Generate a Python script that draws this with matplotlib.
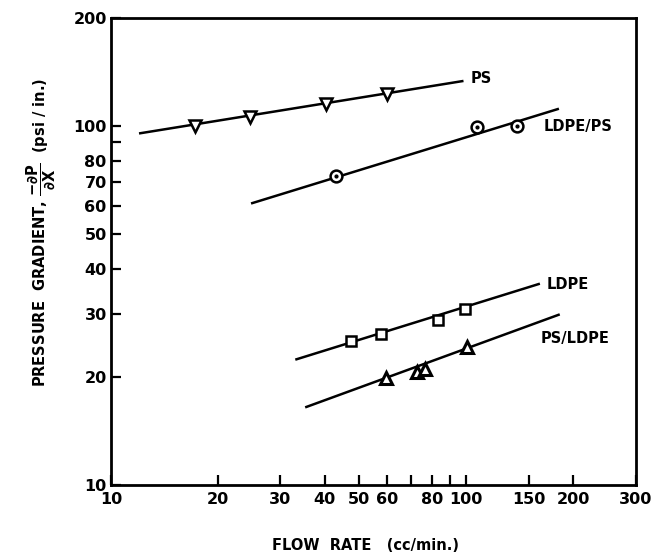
import matplotlib
matplotlib.use("Agg")
import matplotlib.pyplot as plt
from matplotlib.ticker import FixedLocator, FixedFormatter, NullLocator

# ---- data ----
ps_x = [17.2, 24.7, 40.4, 60.0]
ps_y = [100, 106, 115, 123]
ps_line_x = [12.1, 97.5]
ps_line_y = [95.5, 133.4]

ldpeps_x = [43.1, 107, 139]
ldpeps_y = [72.6, 99.4, 100]
ldpeps_line_x = [25.0, 181]
ldpeps_line_y = [61.0, 111.5]

ldpe_x = [47.5, 57.7, 83.4, 99.4]
ldpe_y = [25.2, 26.4, 28.8, 30.9]
ldpe_line_x = [33.3, 160]
ldpe_line_y = [22.4, 36.3]

psldpe_x = [59.6, 72.8, 76.7, 100.7]
psldpe_y = [19.9, 20.6, 21.0, 24.2]
psldpe_line_x = [35.5, 182]
psldpe_line_y = [16.5, 29.8]

series_labels = ["PS", "LDPE/PS", "LDPE", "PS/LDPE"]
label_pos = [(103, 136), (165, 99.6), (168, 36.3), (162, 25.6)]

x_ticks = [10, 20, 30, 40, 50, 60, 70, 80, 90, 100, 150, 200, 300]
x_tick_labels = ["10", "20", "30", "40", "50", "60", "", "80", "", "100", "150", "200", "300"]
y_ticks = [10, 20, 30, 40, 50, 60, 70, 80, 90, 100, 200]
y_tick_labels = ["10", "20", "30", "40", "50", "60", "70", "80", "", "100", "200"]

plt.rcParams['font.family'] = ['DejaVu Sans']
plt.rcParams['mathtext.fontset'] = 'dejavusans'

fig = plt.figure(figsize=(6.52, 5.54), dpi=100)
ax = fig.add_axes([0.170, 0.1245, 0.805, 0.843])
ax.set_xscale('log')
ax.set_yscale('log')
ax.set_xlim(10, 300)
ax.set_ylim(10, 200)

lw = 1.8
k = 'black'
ax.plot(ps_line_x, ps_line_y, color=k, lw=lw)
ax.plot(ps_x, ps_y, linestyle='none', marker='v', ms=8.5, mfc='white', mec=k, mew=1.8)

ax.plot(ldpeps_line_x, ldpeps_line_y, color=k, lw=lw)
ax.plot(ldpeps_x, ldpeps_y, linestyle='none', marker='o', ms=8.5, mfc='white', mec=k, mew=1.8)
ax.plot(ldpeps_x, ldpeps_y, linestyle='none', marker='o', ms=2, mfc=k, mec=k)

ax.plot(ldpe_line_x, ldpe_line_y, color=k, lw=lw)
ax.plot(ldpe_x, ldpe_y, linestyle='none', marker='s', ms=7.5, mfc='white', mec=k, mew=1.8)

ax.plot(psldpe_line_x, psldpe_line_y, color=k, lw=lw)
ax.plot(psldpe_x, psldpe_y, linestyle='none', marker='^', ms=8.5, mfc='white', mec=k, mew=2.2)

for lab, (lx, ly) in zip(series_labels, label_pos):
    ax.text(lx, ly, lab, fontsize=10.5, fontweight='bold', ha='left', va='center')

ax.xaxis.set_major_locator(FixedLocator(x_ticks))
ax.xaxis.set_major_formatter(FixedFormatter(x_tick_labels))
ax.xaxis.set_minor_locator(NullLocator())
ax.yaxis.set_major_locator(FixedLocator(y_ticks))
ax.yaxis.set_major_formatter(FixedFormatter(y_tick_labels))
ax.yaxis.set_minor_locator(NullLocator())

ax.tick_params(axis='both', direction='in', length=7, width=1.6, labelsize=11.5, pad=3)
for t in ax.get_xticklabels() + ax.get_yticklabels():
    t.set_fontweight('bold')
ax.tick_params(axis='x', pad=5)

for s in ax.spines.values():
    s.set_linewidth(2.0)

fig.text(0.561, 0.016, "FLOW  RATE   (cc/min.)", fontsize=10.5, fontweight='bold',
         ha='center', va='center')
fig.text(0.062, 0.58, r"PRESSURE  GRADIENT, $\mathbf{\dfrac{-\partial P}{\partial X}}$  (psi / in.)",
         fontsize=10.5, fontweight='bold', rotation=90, ha='center', va='center')

fig.savefig("out.png", dpi=100)
